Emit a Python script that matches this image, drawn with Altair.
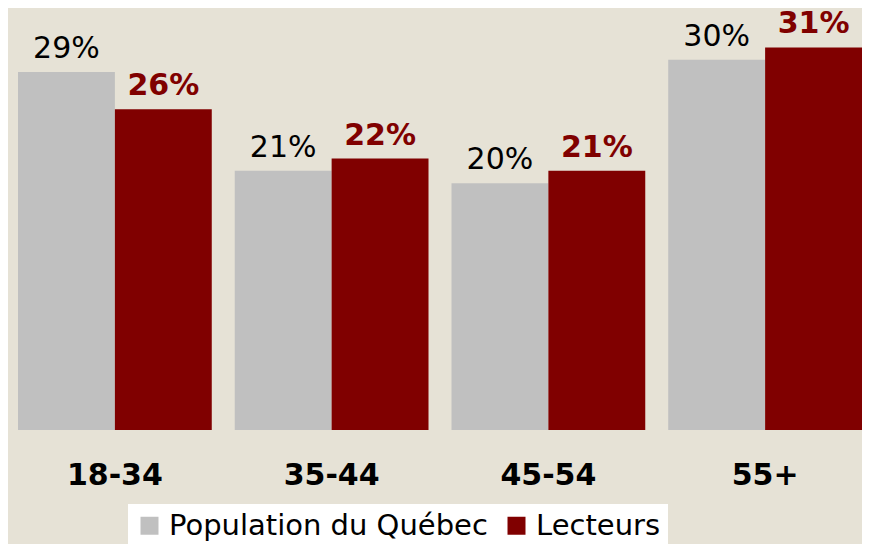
import altair as alt
import pandas as pd

categories = ["18-34", "35-44", "45-54", "55+"]
series_order = ["Population du Québec", "Lecteurs"]
population = [29, 21, 20, 30]
lecteurs = [26, 22, 21, 31]
colors = ["#C0C0C0", "#800000"]

rows = []
for c, p, l in zip(categories, population, lecteurs):
    rows.append({"age": c, "series": series_order[0], "value": p})
    rows.append({"age": c, "series": series_order[1], "value": l})
df = pd.DataFrame(rows)

FONT = "DejaVu Sans"

base = alt.Chart(df).encode(
    x=alt.X(
        "age:N",
        sort=categories,
        scale=alt.Scale(range=[10, 854], paddingInner=0.106, paddingOuter=0),
        axis=alt.Axis(
            title=None,
            labelFontSize=30,
            labelFontWeight="bold",
            labelColor="black",
            labelFont=FONT,
            ticks=False,
            domain=False,
            labelPadding=30,
            labelAngle=0,
        ),
    ),
    xOffset=alt.XOffset(
        "series:N", sort=series_order, scale=alt.Scale(paddingInner=0, paddingOuter=0)
    ),
    y=alt.Y("value:Q", scale=alt.Scale(domain=[0, 33.71]), axis=None),
)

bars = base.mark_bar().encode(
    color=alt.Color(
        "series:N",
        sort=series_order,
        scale=alt.Scale(domain=series_order, range=colors),
        legend=alt.Legend(
            title=None,
            orient="none",
            legendX=120,
            legendY=490,
            direction="horizontal",
            fillColor="white",
            padding=7,
            symbolType="square",
            symbolSize=324,
            symbolStrokeWidth=0,
            symbolOpacity=1,
            labelFontSize=29,
            labelFont=FONT,
            labelColor="black",
            labelOffset=5,
            labelLimit=0,
            columnPadding=14,
        ),
    )
)

text_pop = (
    base.transform_filter(alt.datum.series == series_order[0])
    .transform_calculate(label="datum.value + '%'")
    .mark_text(dy=-14, baseline="alphabetic", fontSize=30, font=FONT, color="black")
    .encode(text="label:N")
)

text_lec = (
    base.transform_filter(alt.datum.series == series_order[1])
    .transform_calculate(label="datum.value + '%'")
    .mark_text(
        dy=-14, baseline="alphabetic", fontSize=30, font=FONT, fontWeight="bold", color="#800000"
    )
    .encode(text="label:N")
)

chart = (
    alt.layer(bars, text_pop, text_lec)
    .properties(
        width=854,
        height=416,
        padding={"top": 6, "left": 0, "right": 0, "bottom": 114},
        autosize=alt.AutoSizeParams(type="none"),
        background="#E6E2D6",
    )
    .configure_view(stroke=None)
)

chart.save("out.html", embed_options={"renderer": "svg", "actions": False})
